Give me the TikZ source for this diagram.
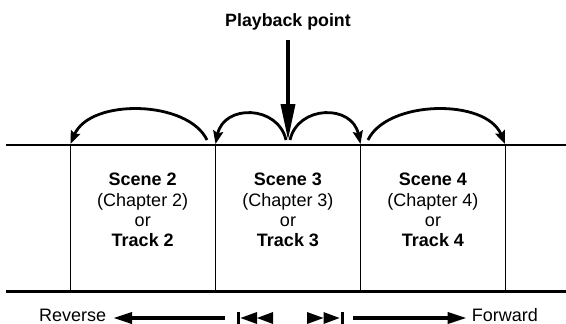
\documentclass[tikz,border=0pt]{standalone}
\usepackage{fontspec}
\setmainfont{Liberation Sans}
\usetikzlibrary{arrows.meta}
\begin{document}
\begin{tikzpicture}[x=1pt,y=-1pt,
  thickline/.style={line width=2.8pt},
  divider/.style={line width=1pt},
  jump/.style={line width=2.8pt, -{Stealth[length=13pt,width=10pt,inset=2pt]}},
  playarrow/.style={line width=3.6pt, -{Triangle[length=36pt,width=14pt]}},
  dirarrow/.style={line width=3.6pt, -{Triangle[length=19pt,width=11pt]}},
  lbl/.style={font=\fontsize{18}{20.3}\selectfont, inner sep=0pt, align=center},
  sym/.style={fill=black},
  ]
\useasboundingbox (0,0) rectangle (566,324);
% horizontal rails
\coordinate (tl) at (6,145);
\coordinate (tr) at (566,145);
\coordinate (bl) at (6,291.5);
\coordinate (br) at (566,291.5);
\draw[thickline] (tl) -- (tr);
\draw[thickline] (bl) -- (br);
% dividers
\foreach \n/\x in {a/70,b/215.5,c/360.5,d/505.5} {
  \coordinate (\n top) at (\x,145);
  \coordinate (\n bot) at (\x,291.5);
  \draw[divider] (\n top) -- (\n bot);
}
% cell texts (base anchor = baseline of the last line)
\node[lbl, anchor=base] (s2) at (142.75,246.7) {\textbf{Scene 2}\\(Chapter 2)\\or\\\textbf{Track 2}};
\node[lbl, anchor=base] (s3) at (288,246.7) {\textbf{Scene 3}\\(Chapter 3)\\or\\\textbf{Track 3}};
\node[lbl, anchor=base] (s4) at (433,246.7) {\textbf{Scene 4}\\(Chapter 4)\\or\\\textbf{Track 4}};
% playback point
\node[lbl, anchor=base, font=\bfseries\fontsize{17.8}{20.3}\selectfont] (pp) at (288,26.7) {Playback point};
\coordinate (pptip) at (288,140);
\coordinate (ppstart) at (288,40);
\draw[playarrow] (ppstart) -- (pptip);
% jump arcs
\coordinate (j1s) at (207,140);   \coordinate (j1e) at (70.5,144);
\coordinate (j2s) at (286,140);   \coordinate (j2e) at (215.5,144);
\coordinate (j3s) at (290,140);   \coordinate (j3e) at (360.5,144);
\coordinate (j4s) at (368,140);   \coordinate (j4e) at (505,144);
\draw[jump] (j1s) .. controls (188,100) and (90,98) .. (j1e);
\draw[jump] (j2s) .. controls (278,105) and (224,104) .. (j2e);
\draw[jump] (j3s) .. controls (298,105) and (352,104) .. (j3e);
\draw[jump] (j4s) .. controls (387,100) and (486,98) .. (j4e);
% bottom direction row
\node[lbl, anchor=base west] (rev) at (39,321.5) {Reverse};
\node[lbl, anchor=base west] (fwd) at (471.7,321.5) {Forward};
\coordinate (revtail) at (225,318);
\coordinate (revtip) at (113,318);
\coordinate (fwdtail) at (353,318);
\coordinate (fwdtip) at (466.7,318);
\draw[dirarrow] (revtail) -- (revtip);
\draw[dirarrow] (fwdtail) -- (fwdtip);
% skip-back symbol
\fill[sym] (237,312) rectangle (240,324);
\fill[sym] (240.5,318) -- (257,312) -- (257,324) -- cycle;
\fill[sym] (257,318) -- (273,312) -- (273,324) -- cycle;
% skip-forward symbol
\fill[sym] (307,312) -- (323.5,318) -- (307,324) -- cycle;
\fill[sym] (323.5,312) -- (339.5,318) -- (323.5,324) -- cycle;
\fill[sym] (340.5,312) rectangle (343.5,324);
\end{tikzpicture}
\end{document}
